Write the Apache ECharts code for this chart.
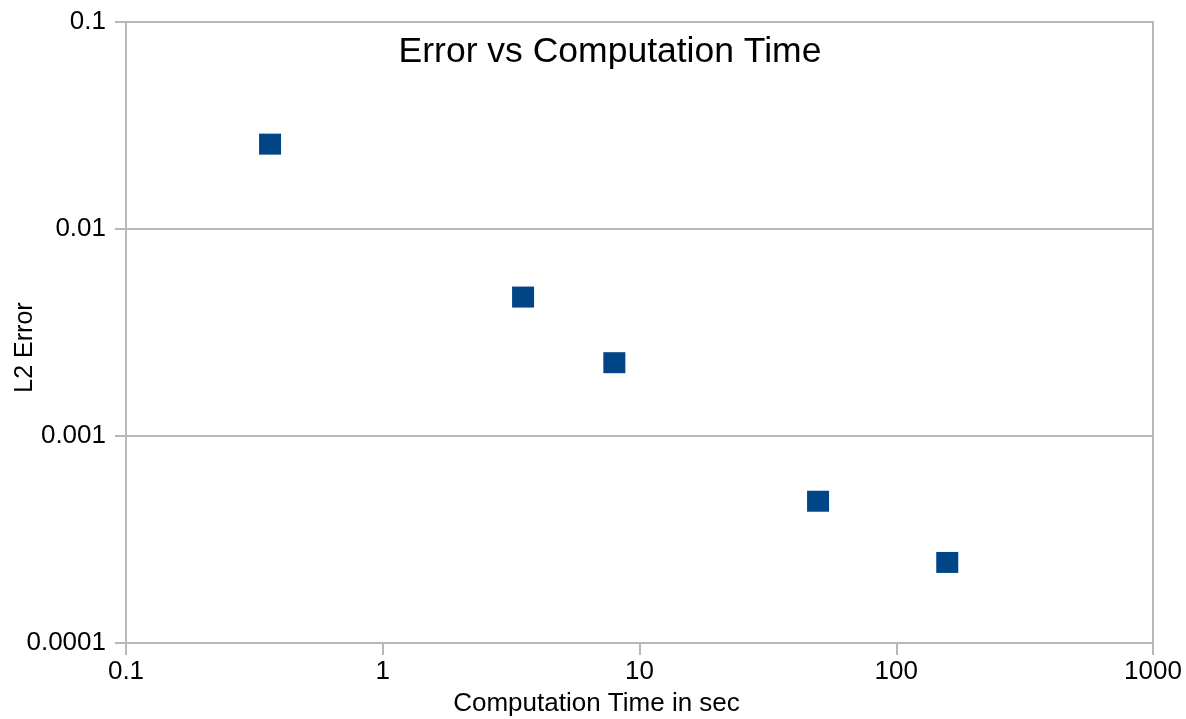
<!DOCTYPE html>
<html>
<head>
<meta charset="utf-8">
<script src="https://cdn.jsdelivr.net/npm/echarts@6/dist/echarts.min.js"></script>
<style>
html,body{margin:0;padding:0;background:#fff;}
#chart{width:1186px;height:719px;}
</style>
</head>
<body>
<div id="chart"></div>
<script>
// Data
var timeSec = [0.364, 3.52, 7.98, 49.6, 158];
var l2Error = [0.0257, 0.00469, 0.00226, 0.000484, 0.000245];
var xTickLabels = ['0.1', '1', '10', '100', '1000'];
var yTickLabels = ['0.0001', '0.001', '0.01', '0.1'];
var chartTitle = 'Error vs Computation Time';
var xName = 'Computation Time in sec';
var yName = 'L2 Error';

var points = timeSec.map(function (t, i) { return [t, l2Error[i]]; });

function pick(labels, minExp) {
  return function (v) {
    var k = Math.round(Math.log(v) / Math.LN10) - minExp;
    return labels[k] !== undefined ? labels[k] : '';
  };
}

var font = 'Liberation Sans, Arial, sans-serif';
var gridColor = '#b8b8b8';

var chart = echarts.init(document.getElementById('chart'), null, {renderer: 'canvas'});
chart.setOption({
  backgroundColor: '#ffffff',
  animation: false,
  title: {
    text: chartTitle,
    left: 605,
    top: 29,
    textAlign: 'center',
    textStyle: {fontFamily: font, fontSize: 35.5, fontWeight: 'normal', color: '#000'}
  },
  grid: {
    left: 126, right: 33, top: 22, bottom: 76,
    containLabel: false, outerBoundsMode: 'none',
    show: true, borderColor: gridColor, borderWidth: 2, backgroundColor: 'transparent'
  },
  xAxis: {
    type: 'log', logBase: 10, min: 0.1, max: 1000,
    name: xName, nameLocation: 'middle', nameGap: 48, nameMoveOverlap: false,
    nameTextStyle: {fontFamily: font, fontSize: 26, color: '#000', padding: [0, 86, 0, 0]},
    axisLine: {show: true, lineStyle: {color: gridColor, width: 2}},
    axisTick: {show: true, length: 12, lineStyle: {color: gridColor, width: 2}},
    minorTick: {show: false},
    splitLine: {show: false},
    axisLabel: {fontFamily: font, fontSize: 26, color: '#000', margin: 16, formatter: pick(xTickLabels, -1)}
  },
  yAxis: {
    type: 'log', logBase: 10, min: 0.0001, max: 0.1,
    name: yName, nameLocation: 'middle', nameGap: 88, nameRotate: 90, nameMoveOverlap: false,
    nameTextStyle: {fontFamily: font, fontSize: 25, color: '#000', padding: [0, 30, 0, 0]},
    axisLine: {show: true, lineStyle: {color: gridColor, width: 2}},
    axisTick: {show: true, length: 11, lineStyle: {color: gridColor, width: 2}},
    minorTick: {show: false},
    splitLine: {show: true, lineStyle: {color: gridColor, width: 2}},
    axisLabel: {fontFamily: font, fontSize: 26, color: '#000', margin: 20, formatter: pick(yTickLabels, -4)}
  },
  series: [{
    type: 'scatter',
    data: points,
    symbol: 'rect',
    symbolSize: [22, 21],
    itemStyle: {color: '#004586', opacity: 1}
  }]
});
</script>
</body>
</html>
